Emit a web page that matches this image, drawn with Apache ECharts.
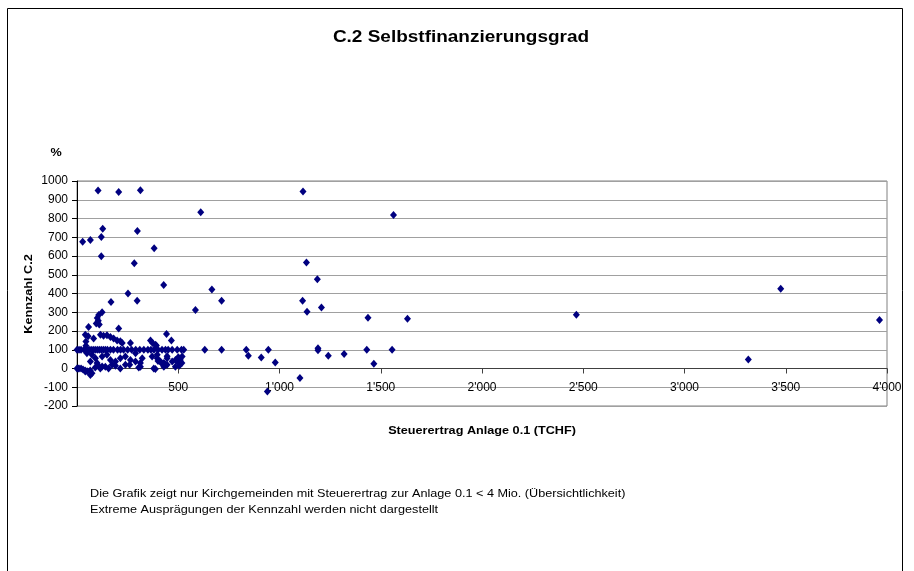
<!DOCTYPE html>
<html>
<head>
<meta charset="utf-8">
<script src="https://cdn.jsdelivr.net/npm/echarts@6/dist/echarts.min.js"></script>
<style>
html,body{margin:0;padding:0;background:#fff;}
#chart{width:914px;height:571px;}
</style>
</head>
<body>
<div id="chart"></div>
<script>
// ---- data (x = Steuerertrag Anlage 0.1 in TCHF, y = Kennzahl C.2 in %) ----
const titleText = "C.2 Selbstfinanzierungsgrad";
const xAxisTitle = "Steuerertrag Anlage 0.1 (TCHF)";
const yAxisTitle = "Kennzahl C.2";
const yUnit = "%";
const footnoteLines = [
  "Die Grafik zeigt nur Kirchgemeinden mit Steuerertrag zur Anlage 0.1 < 4 Mio. (Übersichtlichkeit)",
  "Extreme Ausprägungen der Kennzahl werden nicht dargestellt"
];

const highPoints = [
  [104,950],[206,942],[313,951],[28,676],[66,685],[127,746],[120,701],[120,599],
  [298,733],[283,562],[381,642],[428,446],[252,400],[297,362],[168,355],[611,833],
  [666,421],[714,362],[585,312],[1116,944],[1563,819],[1133,565],[1187,476],[1114,361],
  [1136,303],[1207,325],[1437,271],[1632,266],[2466,287],[3475,426],[3963,259]
];
const midPoints = [
  [631,100],[714,100],[836,100],[846,68],[910,59],[945,100],[979,32],[940,-123],
  [1101,-51],[1190,108],[1190,98],[1241,68],[1319,77],[1431,100],[1466,25],[1556,100],
  [3315,48]
];
const clusterUpper = [
  [124,300],[107,285],[100,270],[105,255],[95,240],[110,235],[57,221],[206,214],
  [41,180],[55,172],[82,160],[116,180],[131,175],[148,178],[165,168],[181,160],
  [198,150],[214,145],[223,136],[264,136],[363,150],[373,136],[387,127],[442,184],
  [466,150],[44,144],[44,121],[392,123]
];
const clusterRow100 = [
  [0,100],[10,100],[20,100],[35,100],[50,100],[60,100],[70,100],[80,100],[90,100],
  [100,100],[110,100],[120,100],[130,100],[140,100],[150,100],[165,100],[180,100],
  [200,100],[215,100],[230,100],[250,100],[270,100],[290,100],[310,100],[330,100],
  [350,100],[365,100],[380,100],[400,100],[420,100],[437,100],[450,100],[470,100],
  [495,100],[516,100],[527,100]
];
const clusterLower = [
  [49,82],[74,73],[91,55],[66,37],[99,29],[124,64],[148,73],[165,46],[190,37],
  [214,55],[239,64],[264,46],[289,37],[313,29],[173,20],[124,11],[289,82],[322,55],
  [371,64],[396,55],[412,37],[429,29],[445,55],[470,37],[486,46],[503,55],[519,64],
  [495,37],[396,73],[445,66],[400,40],[420,25],[437,20],[510,45],[518,30],[500,60],
  [505,15]
];
const clusterZero = [
  [0,0],[5,0],[10,0],[20,0],[30,-5],[40,-10],[50,-15],[65,-10],[74,-25],[66,-34],
  [41,-16],[115,0],[156,0],[214,0],[239,20],[305,5],[313,10],[379,0],[429,10],
  [445,20],[486,10],[387,-3],[90,5],[105,15],[140,10],[190,15],[260,20]
];

const xMin = 0, xMax = 4000, xStep = 500;
const yMin = -200, yMax = 1000, yStep = 100;

const allPoints = [].concat(highPoints, midPoints, clusterUpper, clusterRow100, clusterLower, clusterZero);

function fmtThousands(v){
  const s = String(Math.round(Math.abs(v)));
  const out = s.replace(/\B(?=(\d{3})+(?!\d))/g, "'");
  return (v < 0 ? "-" : "") + out;
}

const FONT = "'Liberation Sans', Arial, sans-serif";
const SX = 1.15; // reference text is rendered slightly wider than Arial
const chart = echarts.init(document.getElementById('chart'), null, {renderer:'canvas'});

function txt(x, y, text, font, align, extra){
  return Object.assign({
    type: 'text', x: x, y: y, scaleX: SX, silent: true,
    style: {text: text, font: font, fill: '#000', textAlign: align, textVerticalAlign: 'middle'}
  }, extra || {});
}

chart.setOption({
  backgroundColor: '#ffffff',
  animation: false,
  grid: {
    left: 77, right: 27, top: 181, bottom: 165,
    show: true, borderColor: '#808080', borderWidth: 1, backgroundColor: 'transparent'
  },
  xAxis: {
    type: 'value', min: xMin, max: xMax, interval: xStep,
    axisLine: {show: true, onZero: true, lineStyle: {color: '#404040', width: 1}},
    axisTick: {show: true, inside: false, length: 5, lineStyle: {color: '#404040'}},
    splitLine: {show: false},
    axisLabel: {
      show: true, margin: -24, fontFamily: FONT, fontSize: 12, color: '#000',
      showMinLabel: false,
      formatter: function(v){ return v === 0 ? '' : fmtThousands(v); }
    }
  },
  yAxis: {
    type: 'value', min: yMin, max: yMax, interval: yStep,
    axisLine: {show: true, onZero: false, lineStyle: {color: '#000', width: 1}},
    axisTick: {show: true, inside: false, length: 5, lineStyle: {color: '#000'}},
    splitLine: {show: true, lineStyle: {color: '#a0a0a0', width: 1}},
    axisLabel: {margin: 9, fontFamily: FONT, fontSize: 12, color: '#000',
      formatter: function(v){ return String(v); }}
  },
  series: [{
    type: 'scatter',
    data: allPoints,
    symbol: 'diamond',
    symbolSize: [7, 8],
    itemStyle: {color: '#000080', opacity: 1},
    z: 5
  }],
  graphic: [
    {type: 'rect', shape: {x: 7.5, y: 8.5, width: 895, height: 620},
     style: {fill: 'none', stroke: '#000', lineWidth: 1}, silent: true},
    txt(461, 37, titleText, 'bold 16.5px ' + FONT, 'center'),
    txt(56, 153, yUnit, 'bold 11px ' + FONT, 'center'),
    txt(29, 294, yAxisTitle, 'bold 11px ' + FONT, 'center', {rotation: Math.PI/2}),
    txt(482, 431, xAxisTitle, 'bold 11px ' + FONT, 'center'),
    txt(90, 494, footnoteLines[0], '11px ' + FONT, 'left'),
    txt(90, 510, footnoteLines[1], '11px ' + FONT, 'left')
  ]
});
</script>
</body>
</html>
